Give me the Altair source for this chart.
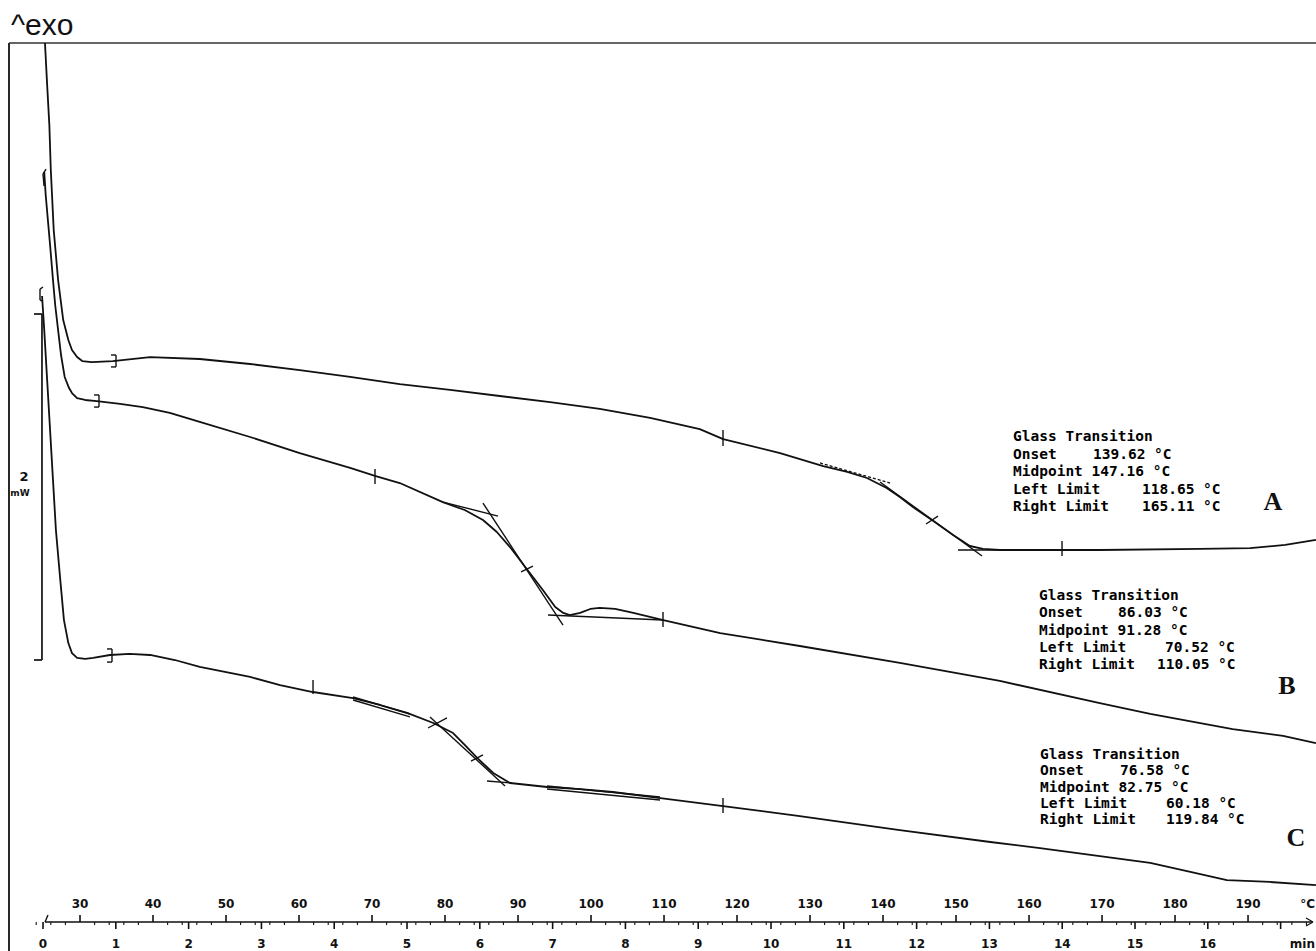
import altair as alt
import pandas as pd

# ---------------- data: DSC heat-flow curves (temperature in °C, heat flow in mW) ----------------
a_temp = [25.2, 25.5, 25.8, 26.0, 26.4, 27.0, 27.7, 28.4, 28.9, 29.6, 30.3, 31.6, 34.5, 39.6, 46.4,
          53.3, 60.1, 67.0, 73.8, 80.7, 87.5, 94.4, 101.2, 108.1, 114.9, 118.1, 125.9, 131.8, 135.1,
          137.8, 140.5, 142.3, 144.1, 146.7, 149.6, 151.9, 153.7, 156.0, 169.7, 183.4, 190.3, 195.1, 199.3]
a_hf = [5.248, 5.005, 4.774, 4.514, 4.167, 3.878, 3.647, 3.532, 3.474, 3.433, 3.410, 3.404, 3.410, 3.433,
        3.422, 3.393, 3.358, 3.318, 3.277, 3.243, 3.208, 3.173, 3.133, 3.081, 3.017, 2.959, 2.878, 2.803,
        2.769, 2.734, 2.676, 2.624, 2.566, 2.491, 2.404, 2.341, 2.324, 2.318, 2.318, 2.324, 2.329, 2.347, 2.376]

b_temp = [25.1, 25.3, 25.6, 25.9, 26.3, 26.6, 27.0, 27.4, 27.9, 28.5, 28.9, 29.6, 30.7, 32.3, 35.5, 38.6,
          42.3, 46.4, 53.3, 60.1, 67.0, 70.4, 73.8, 79.7, 82.7, 85.2, 87.1, 88.9, 91.2, 93.4, 95.1, 96.2,
          97.1, 98.5, 99.9, 101.2, 103.3, 105.8, 109.9, 117.7, 128.6, 142.3, 156.0, 169.7, 176.6, 187.9,
          194.8, 199.3]
b_hf = [4.503, 4.370, 4.225, 4.081, 3.878, 3.734, 3.589, 3.445, 3.318, 3.254, 3.225, 3.196, 3.185, 3.179,
        3.162, 3.144, 3.110, 3.058, 2.971, 2.878, 2.792, 2.746, 2.705, 2.595, 2.549, 2.491, 2.422, 2.335,
        2.208, 2.087, 1.988, 1.954, 1.942, 1.954, 1.977, 1.983, 1.977, 1.954, 1.913, 1.838, 1.763, 1.665,
        1.561, 1.433, 1.370, 1.283, 1.243, 1.202]

c_temp = [24.8, 25.1, 25.5, 25.9, 26.3, 26.7, 27.3, 27.8, 28.4, 28.9, 29.6, 30.7, 31.8, 34.1, 36.8, 39.6,
          43.0, 46.4, 53.3, 57.4, 61.9, 67.4, 71.1, 74.8, 78.4, 81.1, 82.7, 84.4, 86.6, 88.9, 94.0, 98.5,
          103.0, 109.5, 118.1, 128.6, 142.3, 154.7, 161.5, 169.7, 176.6, 182.1, 187.1, 193.0, 199.3]
c_hf = [3.786, 3.589, 3.300, 3.011, 2.722, 2.433, 2.144, 1.913, 1.780, 1.722, 1.694, 1.688, 1.694, 1.711,
        1.717, 1.711, 1.682, 1.642, 1.584, 1.537, 1.497, 1.462, 1.422, 1.376, 1.318, 1.260, 1.191, 1.116,
        1.029, 0.971, 0.948, 0.936, 0.919, 0.884, 0.838, 0.780, 0.699, 0.630, 0.595, 0.549, 0.509, 0.457,
        0.410, 0.399, 0.381]

# glass-transition evaluation results
samples = ["A", "B", "C"]
onset = [139.62, 86.03, 76.58]
midpoint = [147.16, 91.28, 82.75]
left_limit = [118.65, 70.52, 60.18]
right_limit = [165.11, 110.05, 119.84]

# evaluation construction lines: (T1, hf1, T2, hf2)
solid_segments = [
    (34.93, 3.445, 34.93, 3.376), (34.25, 3.445, 34.93, 3.445), (34.25, 3.376, 34.93, 3.376),
    (32.60, 3.214, 32.60, 3.144), (31.92, 3.214, 32.60, 3.214), (31.92, 3.144, 32.60, 3.144),
    (34.38, 1.746, 34.38, 1.670), (33.70, 1.746, 34.38, 1.746), (33.70, 1.670, 34.38, 1.670),
    (25.34, 4.520, 24.93, 4.491), (24.93, 4.491, 25.07, 4.422),
    (24.93, 3.838, 24.52, 3.826), (24.52, 3.826, 24.52, 3.763), (24.52, 3.763, 24.79, 3.757),
    (118.08, 3.011, 118.08, 2.919), (164.52, 2.370, 164.52, 2.283),
    (70.41, 2.786, 70.41, 2.699), (109.86, 1.959, 109.86, 1.873),
    (61.92, 1.566, 61.92, 1.485), (118.08, 0.884, 118.08, 0.798),
    (139.59, 2.711, 153.56, 2.283), (150.27, 2.318, 156.03, 2.318), (145.89, 2.468, 147.53, 2.514),
    (79.72, 2.595, 87.26, 2.514), (85.20, 2.589, 96.16, 1.884), (94.11, 1.942, 109.86, 1.913),
    (90.41, 2.191, 92.05, 2.225),
    (67.40, 1.468, 75.20, 1.370), (67.40, 1.451, 75.20, 1.353), (77.94, 1.353, 88.22, 0.954),
    (93.97, 0.954, 109.45, 0.890), (93.97, 0.936, 109.45, 0.873), (83.56, 1.098, 85.20, 1.133),
    (77.67, 1.289, 80.27, 1.347), (85.75, 0.983, 89.18, 0.971),
]
dashed_segments = [(131.37, 2.821, 140.96, 2.705)]

# 2 mW scale bar
scale_bar_T = 24.79
scale_bar_nub_T = 23.70
scale_bar_base = 1.682
scale_bar_mw = 2.0

# ruler
temp_ticks = list(range(30, 200, 10))
minor_ticks = [t for t in range(24, 200, 2) if t % 10 != 0]
time_ticks = list(range(0, 18))
time_labels = [str(t) for t in range(0, 17)]

# ---------------- layout ----------------
W, H = 1316, 951
T_DOM = [19.04, 199.31]
HF_DOM = [0.0, 5.497]
MIN_DOM = [-0.591, 17.486]
INK = "#111111"
MONO = "DejaVu Sans Mono"


def xT(field="T"):
    return alt.X(f"{field}:Q", scale=alt.Scale(domain=T_DOM, nice=False, zero=False), axis=None)


def yH(field="hf"):
    return alt.Y(f"{field}:Q", scale=alt.Scale(domain=HF_DOM, nice=False, zero=False), axis=None)


def xMin(field="t"):
    return alt.X(f"{field}:Q", scale=alt.Scale(domain=MIN_DOM, nice=False, zero=False), axis=None)


one = pd.DataFrame({"z": [0]})

rows = []
for name, ts, hs in [("A", a_temp, a_hf), ("B", b_temp, b_hf), ("C", c_temp, c_hf)]:
    for i, (t, h) in enumerate(zip(ts, hs)):
        rows.append({"sample": name, "T": t, "hf": h, "i": i})
curve_df = pd.DataFrame(rows)

curves = alt.Chart(curve_df).mark_line(color=INK, strokeWidth=1.8, strokeJoin="round").encode(
    x=xT(), y=yH(), detail="sample:N", order=alt.Order("i:Q"))

seg_df = pd.DataFrame(solid_segments, columns=["T", "hf", "T2", "hf2"])
segs = alt.Chart(seg_df).mark_rule(color=INK, strokeWidth=1.4).encode(
    x=xT(), y=yH(), x2=alt.X2("T2:Q"), y2=alt.Y2("hf2:Q"))

dseg_df = pd.DataFrame(dashed_segments, columns=["T", "hf", "T2", "hf2"])
dsegs = alt.Chart(dseg_df).mark_rule(color=INK, strokeWidth=1.3, strokeDash=[3, 2]).encode(
    x=xT(), y=yH(), x2=alt.X2("T2:Q"), y2=alt.Y2("hf2:Q"))

sb_df = pd.DataFrame([
    (scale_bar_T, scale_bar_base, scale_bar_T, scale_bar_base + scale_bar_mw),
    (scale_bar_nub_T, scale_bar_base, scale_bar_T, scale_bar_base),
    (scale_bar_nub_T, scale_bar_base + scale_bar_mw, scale_bar_T, scale_bar_base + scale_bar_mw),
], columns=["T", "hf", "T2", "hf2"])
scalebar = alt.Chart(sb_df).mark_rule(color=INK, strokeWidth=1.7).encode(
    x=xT(), y=yH(), x2=alt.X2("T2:Q"), y2=alt.Y2("hf2:Q"))

sb_text = pd.DataFrame({"px": [24, 20], "py": [477, 493], "text": [f"{scale_bar_mw:g}", "mW"],
                        "size": [13, 9]})
scalebar_lbl = alt.Chart(sb_text).mark_text(font="DejaVu Sans", fontWeight="bold", color=INK,
                                            baseline="middle", align="center").encode(
    x=alt.X("px:Q", scale=None, axis=None), y=alt.Y("py:Q", scale=None, axis=None), text="text:N",
    size=alt.Size("size:Q", scale=None, legend=None))

# frame
frame_left = alt.Chart(one).mark_rule(color=INK, strokeWidth=1.8).encode(
    x=alt.value(9), y=alt.value(43), y2=alt.value(H))
frame_top = alt.Chart(one).mark_rule(color="#333333", strokeWidth=1.3).encode(
    x=alt.value(9), x2=alt.value(W), y=alt.value(43))
exo = alt.Chart(one).mark_text(text="^exo", font="Liberation Sans", fontSize=30, align="left",
                               baseline="alphabetic", color=INK).encode(x=alt.value(11), y=alt.value(35))

# ruler
RY = 922
ruler = alt.Chart(one).mark_rule(color=INK, strokeWidth=1.4).encode(
    x=alt.value(45), x2=alt.value(1312), y=alt.value(RY))
ruler_start = alt.Chart(one).mark_rule(color=INK, strokeWidth=1.4).encode(
    x=alt.value(45), x2=alt.value(48), y=alt.value(RY), y2=alt.value(RY - 7))
arrow1 = alt.Chart(one).mark_rule(color=INK, strokeWidth=1.3).encode(
    x=alt.value(1306), x2=alt.value(1313), y=alt.value(RY - 4), y2=alt.value(RY))
arrow2 = alt.Chart(one).mark_rule(color=INK, strokeWidth=1.3).encode(
    x=alt.value(1306), x2=alt.value(1313), y=alt.value(RY + 4), y2=alt.value(RY))

tt_df = pd.DataFrame({"T": temp_ticks, "label": [str(t) for t in temp_ticks]})
temp_tick_marks = alt.Chart(tt_df).mark_rule(color=INK, strokeWidth=1.6).encode(
    x=xT(), y=alt.value(RY - 7), y2=alt.value(RY))
temp_tick_lbl = alt.Chart(tt_df).mark_text(font="DejaVu Sans", fontWeight="bold", fontSize=12,
                                           color=INK, baseline="middle").encode(
    x=xT(), y=alt.value(904), text="label:N")
unit_lbl = alt.Chart(pd.DataFrame({"text": ["°C", "min"], "py": [904, 944]})).mark_text(
    font="DejaVu Sans", fontWeight="bold", fontSize=12, color=INK, baseline="middle", align="right").encode(
    x=alt.value(1315), y=alt.Y("py:Q", scale=None, axis=None), text="text:N")
mt_df = pd.DataFrame({"T": minor_ticks})
minor_tick_marks = alt.Chart(mt_df).mark_rule(color=INK, strokeWidth=1.1).encode(
    x=xT(), y=alt.value(RY), y2=alt.value(RY + 3))

tm_df = pd.DataFrame({"t": time_ticks})
time_tick_marks = alt.Chart(tm_df).mark_rule(color=INK, strokeWidth=1.6).encode(
    x=xMin(), y=alt.value(RY), y2=alt.value(RY + 7))
tl_df = pd.DataFrame({"t": list(range(0, 17)), "label": time_labels})
time_tick_lbl = alt.Chart(tl_df).mark_text(font="DejaVu Sans", fontWeight="bold", fontSize=12,
                                           color=INK, baseline="middle").encode(
    x=xMin(), y=alt.value(944), text="label:N")

# glass-transition annotation blocks (pixel layout)
layout = {
    "A": dict(lx=1013, y0=437, dy=17.5, ox=1093, lfx=1142, rtx=1142, letter=(1273, 502)),
    "B": dict(lx=1039, y0=596, dy=17.25, ox=1118, lfx=1165, rtx=1157, letter=(1287, 686)),
    "C": dict(lx=1040, y0=755, dy=16.3, ox=1120, lfx=1166, rtx=1166, letter=(1296, 838)),
}
trows = []
lrows = []
for k, s in enumerate(samples):
    L = layout[s]
    y = [L["y0"] + j * L["dy"] for j in range(5)]
    trows += [
        {"px": L["lx"], "py": y[0], "text": "Glass Transition"},
        {"px": L["lx"], "py": y[1], "text": "Onset"},
        {"px": L["ox"], "py": y[1], "text": f"{onset[k]:.2f} °C"},
        {"px": L["lx"], "py": y[2], "text": f"Midpoint {midpoint[k]:.2f} °C"},
        {"px": L["lx"], "py": y[3], "text": "Left Limit"},
        {"px": L["lfx"], "py": y[3], "text": f"{left_limit[k]:.2f} °C"},
        {"px": L["lx"], "py": y[4], "text": "Right Limit"},
        {"px": L["rtx"], "py": y[4], "text": f"{right_limit[k]:.2f} °C"},
    ]
    lrows.append({"px": L["letter"][0], "py": L["letter"][1], "text": s})

ann = alt.Chart(pd.DataFrame(trows)).mark_text(font=MONO, fontWeight="bold", fontSize=14.5, color="black",
                                               align="left", baseline="middle").encode(
    x=alt.X("px:Q", scale=None, axis=None), y=alt.Y("py:Q", scale=None, axis=None), text="text:N")
letters = alt.Chart(pd.DataFrame(lrows)).mark_text(font="Liberation Serif", fontWeight="bold", fontSize=26,
                                                  color=INK, align="center", baseline="middle").encode(
    x=alt.X("px:Q", scale=None, axis=None), y=alt.Y("py:Q", scale=None, axis=None), text="text:N")

chart = alt.layer(
    frame_left, frame_top, exo,
    curves, segs, dsegs, scalebar, scalebar_lbl,
    ruler, ruler_start, arrow1, arrow2,
    temp_tick_marks, minor_tick_marks, temp_tick_lbl, unit_lbl,
    time_tick_marks, time_tick_lbl,
    ann, letters,
).resolve_scale(x="independent", y="independent").properties(
    width=W, height=H, autosize=alt.AutoSizeParams(type="none"), padding=0,
    background="white",
).configure_view(strokeWidth=0)

chart.save("out.html", embed_options={"renderer": "svg", "actions": False})
